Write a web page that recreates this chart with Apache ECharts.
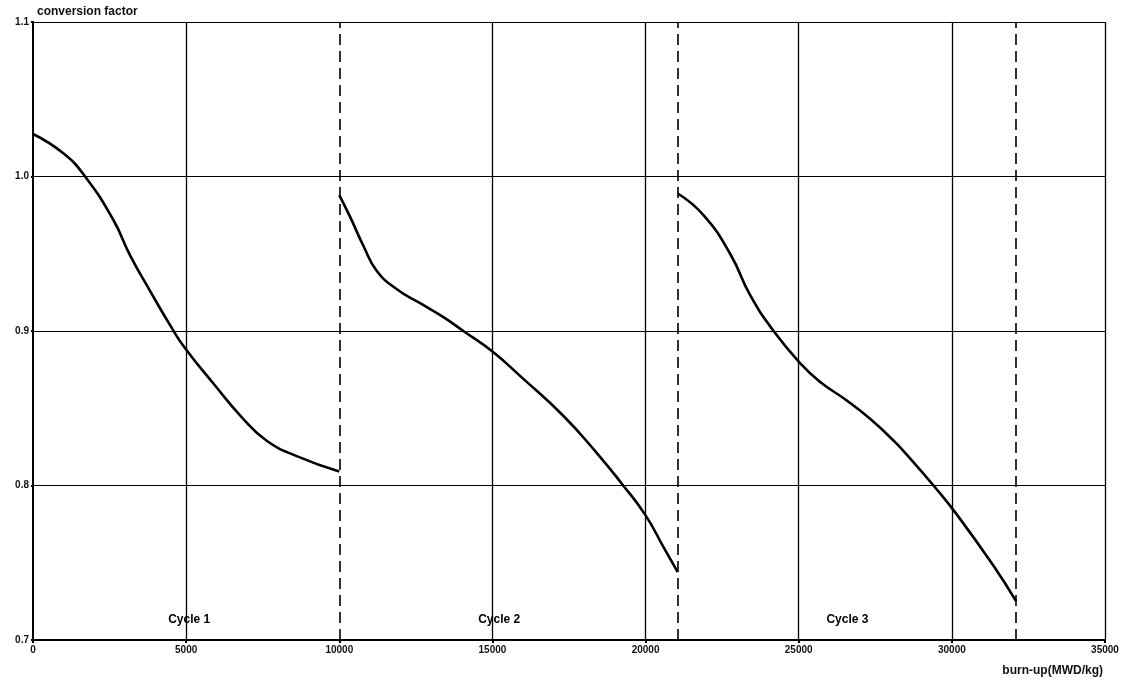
<!DOCTYPE html>
<html>
<head>
<meta charset="utf-8">
<script src="https://cdn.jsdelivr.net/npm/echarts@6/dist/echarts.min.js"></script>
<style>html,body{margin:0;padding:0;background:#fff}#c{width:1128px;height:689px}</style>
</head>
<body>
<div id="c"></div>
<script>
// ---- data ----
const cycle1X = [0, 990, 1700, 2620, 3170, 3820, 4530, 4960, 5890, 6870, 7630, 8610, 10000];
const cycle1Y = [1.0275, 1.015, 1.000, 0.972, 0.949, 0.926, 0.902, 0.889, 0.866, 0.843, 0.829, 0.819, 0.809];
const cycle2X = [10000, 10350, 10790, 11220, 11880, 12640, 13400, 14050, 14980, 16010, 17320, 18410, 19230, 19990, 20590, 21050];
const cycle2Y = [0.988, 0.974, 0.955, 0.939, 0.927, 0.918, 0.909, 0.900, 0.887, 0.869, 0.845, 0.821, 0.801, 0.781, 0.760, 0.744];
const cycle3X = [21050, 21890, 22760, 23420, 24180, 25100, 25700, 26570, 27340, 28100, 28750, 29400, 30170, 31360, 32100];
const cycle3Y = [0.989, 0.975, 0.950, 0.923, 0.900, 0.878, 0.867, 0.855, 0.843, 0.829, 0.815, 0.800, 0.781, 0.748, 0.725];
const cycleBoundaries = [10000, 21050, 32100];
const xTicks = [0, 5000, 10000, 15000, 20000, 25000, 30000, 35000];
const yTicks = [0.7, 0.8, 0.9, 1.0, 1.1];
const cycleNames = ['Cycle 1', 'Cycle 2', 'Cycle 3'];
const cycleLabelX = [5100, 15220, 26590];
const cycleLabelY = [0.713, 0.713, 0.713];

const zip = (xs, ys) => xs.map((x, i) => [x, ys[i]]);
const solidGridX = xTicks.filter(v => v > 0 && cycleBoundaries.indexOf(v) < 0);
const FONT = '"Liberation Sans", "DejaVu Sans", sans-serif';

const curveStyle = { color: '#000', width: 2.6 };
const curveCommon = { type: 'line', smooth: 0.5, symbol: 'none', lineStyle: curveStyle, z: 5 };

const chart = echarts.init(document.getElementById('c'), null, { renderer: 'canvas' });
chart.setOption({
  backgroundColor: '#fff',
  animation: false,
  grid: { left: 33, right: 23, top: 22, bottom: 49, containLabel: false },
  xAxis: {
    type: 'value', min: 0, max: 35000, interval: 5000,
    name: 'burn-up(MWD/kg)', nameLocation: 'end', nameGap: -2,
    nameTextStyle: { fontFamily: FONT, fontSize: 12, fontWeight: 'bold', color: '#111',
      align: 'right', verticalAlign: 'top', padding: [25, 0, 0, 0] },
    axisLine: { lineStyle: { color: '#000', width: 2 } },
    axisTick: { show: true, length: 3, inside: false, lineStyle: { color: '#000', width: 2 } },
    axisLabel: { fontFamily: FONT, fontSize: 10, fontWeight: 'bold', color: '#111', margin: 5,
      formatter: v => String(v) },
    splitLine: { show: false }
  },
  yAxis: {
    type: 'value', min: 0.7, max: 1.1, interval: 0.1,
    name: 'conversion factor', nameLocation: 'end', nameGap: 4,
    nameTextStyle: { fontFamily: FONT, fontSize: 12, fontWeight: 'bold', color: '#111',
      align: 'left', verticalAlign: 'bottom', padding: [0, 0, 0, 4] },
    axisLine: { show: true, lineStyle: { color: '#000', width: 2 } },
    axisTick: { show: true, length: 2, lineStyle: { color: '#000', width: 2 } },
    axisLabel: { fontFamily: FONT, fontSize: 10, fontWeight: 'bold', color: '#111', margin: 4,
      formatter: v => v.toFixed(1) },
    splitLine: { show: true, lineStyle: { color: '#000', width: 1.2 } }
  },
  series: [
    Object.assign({}, curveCommon, {
      data: zip(cycle1X, cycle1Y),
      markLine: {
        silent: true, symbol: ['none', 'none'], label: { show: false },
        data: solidGridX.map(v => ({ xAxis: v, lineStyle: { color: '#000', width: 1.3, type: 'solid' } }))
          .concat(cycleBoundaries.map(v => ({ xAxis: v, lineStyle: { color: '#000', width: 1.6, type: [11, 6] } })))
      }
    }),
    Object.assign({}, curveCommon, { data: zip(cycle2X, cycle2Y) }),
    Object.assign({}, curveCommon, { data: zip(cycle3X, cycle3Y) }),
    {
      type: 'scatter', symbolSize: 0, silent: true, z: 6,
      itemStyle: { opacity: 1 },
      data: cycleLabelX.map((x, i) => ({ value: [x, cycleLabelY[i]], name: cycleNames[i] })),
      label: { show: true, position: 'inside', formatter: p => p.name, opacity: 1,
        fontFamily: FONT, fontSize: 12, fontWeight: 'bold', color: '#000' }
    }
  ]
});
</script>
</body>
</html>
